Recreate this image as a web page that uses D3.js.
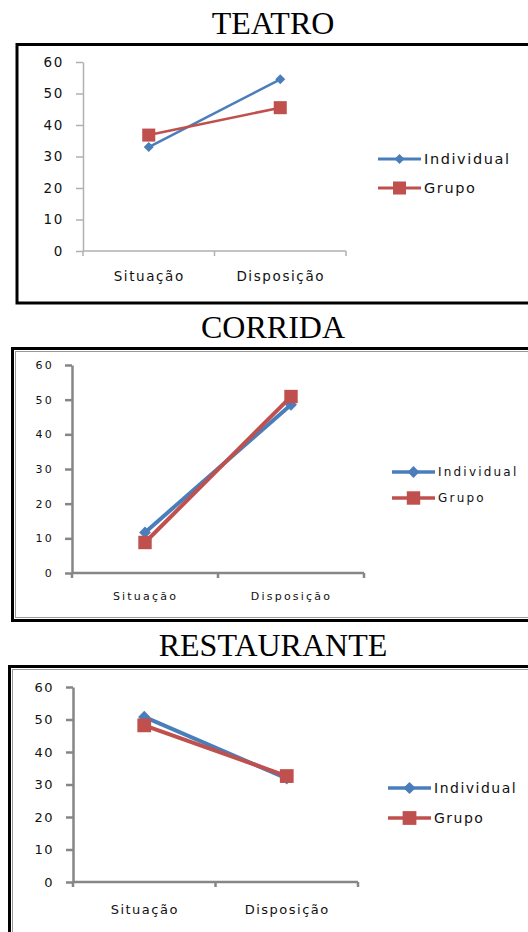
<!DOCTYPE html>
<meta charset="utf-8">
<style>
body { margin: 0; background: #fff; }
.title { font-family: "Liberation Serif", serif; font-size: 32px; fill: #000; }
</style>
<body>
<script src="https://cdn.jsdelivr.net/npm/d3@7"></script>
<script>
// values
var categories = ["Situação", "Disposição"];
var seriesNames = ["Individual", "Grupo"];
var yTicks = [0, 10, 20, 30, 40, 50, 60];

var teatroIndividual = [33, 54.5];
var teatroGrupo = [36.8, 45.5];
var corridaIndividual = [11.7, 48.5];
var corridaGrupo = [8.8, 50.9];
var restauranteIndividual = [50.8, 31.9];
var restauranteGrupo = [48.2, 32.6];

var blue = "#4a7ebb", red = "#c0504d";

var svg = d3.select("body").append("svg")
    .attr("width", 528)
    .attr("height", 932);

// one block per chart
var panels = [
  {title: "TEATRO", titleY: 34, box: [17, 44.5, 303],
   x0: 83, x1: 346, yTop: 62, yBot: 251,
   ind: teatroIndividual, grp: teatroGrupo,
   font: 13.5, spacing: 1.6, axisColor: "#b0b0b0", axisW: 1.5, lineW: 2.5,
   diamond: 50, square: 170, inner: false,
   labelDy: 30, tickPad: 12, legX: 378, legY: [159, 188]},
  {title: "CORRIDA", titleY: 338, box: [12.5, 348.5, 620.5],
   x0: 72, x1: 364, yTop: 365, yBot: 573,
   ind: corridaIndividual, grp: corridaGrupo,
   font: 11, spacing: 2.2, axisColor: "#868686", axisW: 2.5, lineW: 4,
   diamond: 70, square: 180, inner: true,
   labelDy: 27, tickPad: 11, legX: 392, legY: [472, 498]},
  {title: "RESTAURANTE", titleY: 656, box: [9.5, 666.5, 960],
   x0: 73, x1: 358, yTop: 687, yBot: 882,
   ind: restauranteIndividual, grp: restauranteGrupo,
   font: 13, spacing: 1.5, axisColor: "#868686", axisW: 2.5, lineW: 4,
   diamond: 75, square: 190, inner: true,
   labelDy: 32, tickPad: 12, legX: 388, legY: [788, 818]}
];

panels.forEach(function(p) {
  svg.append("text")
      .attr("class", "title")
      .attr("x", 273)
      .attr("y", p.titleY)
      .attr("text-anchor", "middle")
      .text(p.title);

  svg.append("rect")
      .attr("x", p.box[0])
      .attr("y", p.box[1])
      .attr("width", 560)
      .attr("height", p.box[2] - p.box[1])
      .style("fill", "none")
      .style("stroke", "#000")
      .style("stroke-width", 3);
  if (p.inner) {
    svg.append("rect")
        .attr("x", p.box[0] + 3)
        .attr("y", p.box[1] + 3)
        .attr("width", 560)
        .attr("height", p.box[2] - p.box[1] - 6)
        .style("fill", "none")
        .style("stroke", "#999")
        .style("stroke-width", 1);
  }

  var x = d3.scalePoint().domain(categories).range([p.x0, p.x1]).padding(0.5);
  var y = d3.scaleLinear().domain([0, 60]).range([p.yBot, p.yTop]);

  var g = svg.append("g");

  var yAxis = g.append("g")
      .attr("transform", "translate(" + p.x0 + ",0)")
      .call(d3.axisLeft(y).tickValues(yTicks).tickSize(7).tickPadding(p.tickPad).tickSizeOuter(0));
  var xAxis = g.append("g")
      .attr("transform", "translate(0," + p.yBot + ")")
      .call(d3.axisBottom(x).tickSize(0).tickSizeOuter(0).tickPadding(p.labelDy - p.font * 0.7));

  [yAxis, xAxis].forEach(function(a) {
    a.selectAll("path, line")
        .style("stroke", p.axisColor)
        .style("stroke-width", p.axisW);
    a.selectAll("text")
        .style("font-family", "'DejaVu Sans', sans-serif")
        .style("font-size", p.font + "px")
        .style("letter-spacing", p.spacing + "px")
        .style("fill", "#111");
  });
  // y tick lines start at the axis and point left only
  yAxis.selectAll(".tick line").attr("x2", -7);
  xAxis.select(".domain").attr("d", "M" + p.x0 + ",0H" + p.x1);

  // category boundary ticks on the x axis
  xAxis.selectAll(".sep")
      .data([p.x0, (p.x0 + p.x1) / 2, p.x1])
    .enter().append("line")
      .attr("x1", function(d) { return d; })
      .attr("x2", function(d) { return d; })
      .attr("y1", 0)
      .attr("y2", 5)
      .style("stroke", p.axisColor)
      .style("stroke-width", p.axisW);

  var line = d3.line()
      .x(function(d, i) { return x(categories[i]); })
      .y(function(d) { return y(d); });

  var series = [
    {name: seriesNames[0], values: p.ind, color: blue, sym: "diamond"},
    {name: seriesNames[1], values: p.grp, color: red, sym: "square"}
  ];

  function marker(sel, s, cx, cy) {
    var size = s.sym === "diamond" ? p.diamond : p.square;
    sel.append("path")
        .attr("d", d3.symbol(d3.symbolSquare, size)())
        .attr("transform", "translate(" + cx + "," + cy + ")" + (s.sym === "diamond" ? " rotate(45)" : ""))
        .style("fill", s.color);
  }

  series.forEach(function(s) {
    g.append("path")
        .datum(s.values)
        .attr("d", line)
        .style("fill", "none")
        .style("stroke", s.color)
        .style("stroke-width", p.lineW);
    s.values.forEach(function(v, i) {
      marker(g, s, x(categories[i]), y(v));
    });
  });

  // legend
  series.forEach(function(s, i) {
    var ly = p.legY[i];
    g.append("line")
        .attr("x1", p.legX)
        .attr("x2", p.legX + 43)
        .attr("y1", ly)
        .attr("y2", ly)
        .style("stroke", s.color)
        .style("stroke-width", p.lineW === 2.5 ? 3 : 3.5);
    marker(g, s, p.legX + 21.5, ly);
    g.append("text")
        .attr("x", p.legX + 46)
        .attr("y", ly)
        .attr("dy", "0.35em")
        .style("font-family", "'DejaVu Sans', sans-serif")
        .style("font-size", (p.font + 1) + "px")
        .style("letter-spacing", p.spacing + "px")
        .style("fill", "#111")
        .text(s.name);
  });
});
</script>
</body>
